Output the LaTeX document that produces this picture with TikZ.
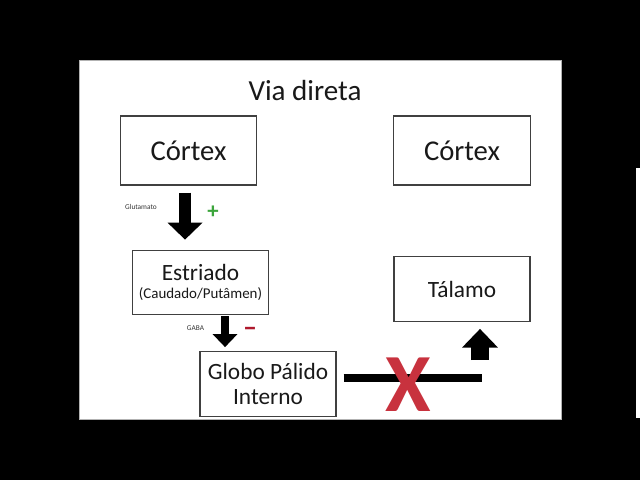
\documentclass[tikz,border=0pt]{standalone}
\usepackage{fontspec}
\setmainfont{Carlito}
\usepackage{xcolor}
\usetikzlibrary{arrows.meta}
\definecolor{xred}{RGB}{200,50,62}
\definecolor{plusgreen}{RGB}{60,165,60}
\definecolor{minusred}{RGB}{175,25,45}

\begin{document}
\begin{tikzpicture}[x=0.75pt,y=-0.75pt,
  box/.style={draw=black!75,line width=0.8pt,fill=white,inner sep=0pt,align=center,text=black!90},
  bigbox/.style={box,minimum width=102.5pt,minimum height=51.75pt,font=\fontsize{21.5}{25}\selectfont},
  midbox/.style={box,minimum width=102pt,minimum height=48.5pt},
  tiny/.style={font=\fontsize{5.5}{6}\selectfont,text=black!80,inner sep=0pt},
  downA/.style={line width=9pt,-{Triangle[width=25.5pt,length=12.75pt]}},
  downB/.style={line width=6pt,-{Triangle[width=18pt,length=9.75pt]}},
  upA/.style={line width=13.5pt,-{Triangle[width=26pt,length=14pt]}}]
% background and slide
\fill[black](0,0)rectangle(640,480);
\fill[white](636,168)rectangle(640,418);
\draw[gray!60,fill=white](79,60)rectangle(561,419);
\node[anchor=base,font=\fontsize{21.8}{25}\selectfont,text=black!90](title) at (305,100){Via direta};
% boxes
\node[bigbox](cortexL) at (188.5,150.5){Córtex};
\node[bigbox](cortexR) at (462,150.5){Córtex};
\node[midbox,font=\fontsize{17.5}{13.5}\selectfont](estriado) at (200.5,282.5)
  {Estriado\\{\fontsize{11.2}{13.5}\selectfont(Caudado/Putâmen)}};
\node[midbox,font=\fontsize{17.5}{25}\selectfont](talamo) at (462,289){Tálamo};
\node[midbox,font=\fontsize{17.5}{19}\selectfont](globo) at (268,384){Globo Pálido\\Interno};
% arrows
\coordinate (a1top) at ([xshift=-2.6pt,yshift=-5.25pt]cortexL.south);
\coordinate (a1tip) at ([yshift=7.5pt]a1top |- estriado.north);
\draw[downA](a1top)--(a1tip);
\coordinate (a2top) at ([xshift=18.4pt,yshift=-0.75pt]estriado.south);
\coordinate (a2tip) at ([yshift=3pt]a2top |- globo.north);
\draw[downB](a2top)--(a2tip);
\coordinate (upbase) at (480,360);
\coordinate (uptip) at ([yshift=-5.25pt]upbase |- talamo.south);
\draw[upA](upbase)--(uptip);
\coordinate (blocked) at (482,378);
\draw[line width=6pt]([xshift=5.25pt,yshift=4.5pt]globo.east)--(blocked);
\node[text=xred,font=\fontsize{62}{62}\bfseries,inner sep=0pt](cross) at (408.5,385){X};
% signs
\node[tiny](glut) at (141,207){Glutamato};
\node[tiny](gaba) at (195.5,328){GABA};
\node[text=plusgreen,font=\fontsize{17}{17}\bfseries,inner sep=0pt](plus) at (213,212){+};
\node[text=minusred,font=\fontsize{21}{21}\bfseries,inner sep=0pt](minus) at (250,332){–};
\end{tikzpicture}
\end{document}
